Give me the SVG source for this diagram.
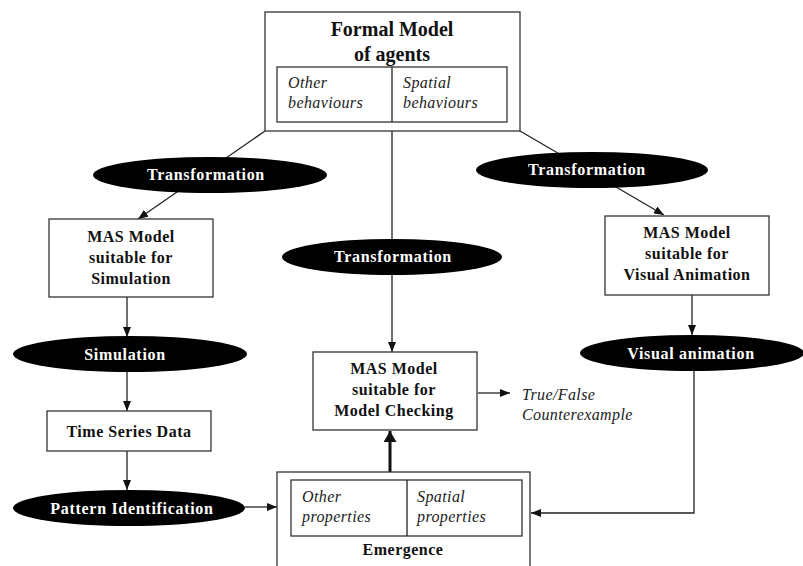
<svg xmlns="http://www.w3.org/2000/svg" width="803" height="566" viewBox="0 0 803 566">
<style>
.box{fill:#fff;stroke:#333;stroke-width:1.3}
.ell{fill:#000}
.b{font-family:"Liberation Serif","Times New Roman",serif;font-weight:bold;font-size:16px;fill:#111;text-anchor:middle;letter-spacing:0.5px}
.w{font-family:"Liberation Serif","Times New Roman",serif;font-weight:bold;font-size:16px;fill:#fff;text-anchor:middle;letter-spacing:0.7px}
.i{font-family:"Liberation Serif","Times New Roman",serif;font-style:italic;font-size:16px;fill:#222;letter-spacing:0.4px}
.c{fill:none;stroke:#222;stroke-width:1.3}
</style>
<defs>
<marker id="ah" markerUnits="userSpaceOnUse" markerWidth="10" markerHeight="8" refX="10" refY="4" orient="auto"><path d="M0,0 L10,4 L0,8 z" fill="#111"/></marker>
<marker id="ahb" markerUnits="userSpaceOnUse" markerWidth="11" markerHeight="13" refX="11" refY="6.5" orient="auto"><path d="M0,0 L11,6.5 L0,13 z" fill="#111"/></marker>
</defs>
<g id="connectors">
<line class="c" x1="265" y1="131" x2="138" y2="219" marker-end="url(#ah)"/>
<line class="c" x1="520" y1="131" x2="664" y2="215" marker-end="url(#ah)"/>
<line class="c" x1="392" y1="131" x2="392" y2="352" marker-end="url(#ah)"/>
<line class="c" x1="127" y1="297" x2="127" y2="337" marker-end="url(#ah)"/>
<line class="c" x1="127" y1="372" x2="127" y2="411" marker-end="url(#ah)"/>
<line class="c" x1="127" y1="451" x2="127" y2="490" marker-end="url(#ah)"/>
<line class="c" x1="245" y1="507" x2="277" y2="507" marker-end="url(#ah)"/>
<line class="c" x1="692" y1="295" x2="692" y2="335" marker-end="url(#ah)"/>
<polyline class="c" points="694,371 694,513 531,513" marker-end="url(#ah)"/>
<line class="c" x1="478" y1="393" x2="510" y2="393" marker-end="url(#ah)"/>
<line x1="390" y1="472" x2="390" y2="431" stroke="#111" stroke-width="3" marker-end="url(#ahb)"/>
</g>
<g id="formal-model">
<rect class="box" x="265" y="12" width="255" height="119"/>
<text class="b" x="392" y="36" style="font-size:20px;letter-spacing:0">Formal Model</text>
<text class="b" x="392" y="61" style="font-size:20px;letter-spacing:0">of agents</text>
<rect class="box" x="277" y="67" width="230" height="55"/>
<line x1="392" y1="67" x2="392" y2="122" stroke="#222" stroke-width="1.3"/>
<text class="i" x="288" y="88">Other</text>
<text class="i" x="288" y="108">behaviours</text>
<text class="i" x="403" y="88">Spatial</text>
<text class="i" x="403" y="108">behaviours</text>
</g>
<g id="transformation-left">
<ellipse class="ell" cx="210" cy="175" rx="117" ry="18"/>
<text class="w" x="206" y="180">Transformation</text>
</g>
<g id="transformation-middle">
<ellipse class="ell" cx="392" cy="257" rx="110" ry="18"/>
<text class="w" x="393" y="262">Transformation</text>
</g>
<g id="transformation-right">
<ellipse class="ell" cx="592" cy="170" rx="116" ry="18"/>
<text class="w" x="587" y="175">Transformation</text>
</g>
<g id="mas-simulation">
<rect class="box" x="49" y="219" width="164" height="78"/>
<text class="b" x="131" y="242">MAS Model</text>
<text class="b" x="131" y="263">suitable for</text>
<text class="b" x="131" y="284">Simulation</text>
</g>
<g id="mas-visual">
<rect class="box" x="605" y="216" width="164" height="79"/>
<text class="b" x="687" y="238">MAS Model</text>
<text class="b" x="687" y="259">suitable for</text>
<text class="b" x="687" y="280">Visual Animation</text>
</g>
<g id="simulation">
<ellipse class="ell" cx="130" cy="354" rx="117" ry="18"/>
<text class="w" x="125" y="360">Simulation</text>
</g>
<g id="visual-animation">
<ellipse class="ell" cx="692" cy="353" rx="112" ry="18"/>
<text class="w" x="691" y="359">Visual animation</text>
</g>
<g id="time-series">
<rect class="box" x="47" y="411" width="164" height="40"/>
<text class="b" x="129" y="437">Time Series Data</text>
</g>
<g id="pattern-identification">
<ellipse class="ell" cx="129" cy="508" rx="116" ry="18"/>
<text class="w" x="132" y="514">Pattern Identification</text>
</g>
<g id="mas-model-checking">
<rect class="box" x="313" y="352" width="164" height="78"/>
<text class="b" x="394" y="374">MAS Model</text>
<text class="b" x="394" y="395">suitable for</text>
<text class="b" x="394" y="416">Model Checking</text>
</g>
<g id="result">
<text class="i" x="522" y="400">True/False</text>
<text class="i" x="522" y="420">Counterexample</text>
</g>
<g id="emergence">
<rect class="box" x="277" y="472" width="253" height="110"/>
<rect class="box" x="291" y="480" width="231" height="56"/>
<line x1="407" y1="480" x2="407" y2="536" stroke="#222" stroke-width="1.3"/>
<text class="i" x="302" y="502">Other</text>
<text class="i" x="302" y="522">properties</text>
<text class="i" x="417" y="502">Spatial</text>
<text class="i" x="417" y="522">properties</text>
<text class="b" x="403" y="555">Emergence</text>
</g>
</svg>
